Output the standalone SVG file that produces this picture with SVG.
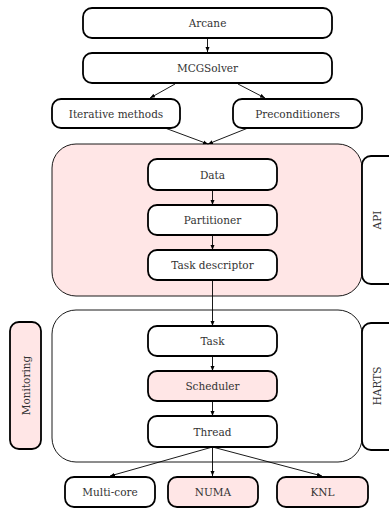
<svg xmlns="http://www.w3.org/2000/svg" width="389" height="509" viewBox="0 0 389 509" font-family="'DejaVu Serif', 'Liberation Serif', serif">
<style>
.node{fill:#fff;stroke:#000;stroke-width:1.8}
.pink{fill:#ffe6e6}
.cont{stroke:#000;stroke-width:0.9}
.t{font-family:'DejaVu Serif','Liberation Serif',serif;font-size:10.5px;fill:#333;text-anchor:middle;dominant-baseline:central}
.conn line{stroke:#000;stroke-width:0.9}
</style>
<defs>
<marker id="ah" viewBox="0 0 10 10" refX="10" refY="5" markerWidth="5" markerHeight="5" orient="auto" markerUnits="userSpaceOnUse">
<path d="M0,1 L10,5 L0,9 Z" fill="#000"/>
</marker>
</defs>
<rect width="389" height="509" fill="#fff"/>
<g id="api-container"><rect class="cont" x="52" y="144" width="310" height="152" rx="24" fill="#ffe6e6"/></g>
<g id="harts-container"><rect class="cont" x="52" y="310" width="310" height="152" rx="24" fill="#fff"/></g>
<g id="api"><rect class="node" x="362" y="156" width="40" height="128" rx="9"/><text class="t" transform="translate(377,220) rotate(-90)">API</text></g>
<g id="harts"><rect class="node" x="362" y="323" width="40" height="127" rx="9"/><text class="t" transform="translate(377,386) rotate(-90)">HARTS</text></g>
<g id="monitoring"><rect class="node pink" x="10" y="322" width="31" height="127" rx="9"/><text class="t" transform="translate(25.5,385.5) rotate(-90)">Monitoring</text></g>
<g class="conn" id="connectors">
<line x1="207.5" y1="38" x2="207.5" y2="52" marker-end="url(#ah)"/>
<line x1="175" y1="84" x2="150" y2="98" marker-end="url(#ah)"/>
<line x1="238" y1="84" x2="265" y2="98" marker-end="url(#ah)"/>
<line x1="165" y1="128" x2="208" y2="144" marker-end="url(#ah)"/>
<line x1="248" y1="128" x2="208" y2="144" marker-end="url(#ah)"/>
<line x1="212.5" y1="190" x2="212.5" y2="205" marker-end="url(#ah)"/>
<line x1="212.5" y1="235" x2="212.5" y2="250" marker-end="url(#ah)"/>
<line x1="212.5" y1="280" x2="212.5" y2="326" marker-end="url(#ah)"/>
<line x1="212.5" y1="356" x2="212.5" y2="371" marker-end="url(#ah)"/>
<line x1="212.5" y1="401" x2="212.5" y2="416" marker-end="url(#ah)"/>
<line x1="212.5" y1="447" x2="110" y2="476" marker-end="url(#ah)"/>
<line x1="212.5" y1="447" x2="212.5" y2="476" marker-end="url(#ah)"/>
<line x1="212.5" y1="447" x2="322" y2="476" marker-end="url(#ah)"/>
</g>
<g id="arcane"><rect class="node" x="83" y="8" width="249" height="30" rx="9"/><text class="t" x="207.5" y="23">Arcane</text></g>
<g id="mcgsolver"><rect class="node" x="83" y="53" width="249" height="30" rx="9"/><text class="t" x="207.5" y="68">MCGSolver</text></g>
<g id="iterative"><rect class="node" x="52" y="99" width="128" height="29" rx="9"/><text class="t" x="116" y="113.5">Iterative methods</text></g>
<g id="preconditioners"><rect class="node" x="233" y="99" width="129" height="29" rx="9"/><text class="t" x="297.5" y="113.5">Preconditioners</text></g>
<g id="data"><rect class="node" x="148" y="159" width="129" height="31" rx="9"/><text class="t" x="212.5" y="174.5">Data</text></g>
<g id="partitioner"><rect class="node" x="148" y="205" width="129" height="30" rx="9"/><text class="t" x="212.5" y="220">Partitioner</text></g>
<g id="taskdesc"><rect class="node" x="148" y="250" width="129" height="30" rx="9"/><text class="t" x="212.5" y="265">Task descriptor</text></g>
<g id="task"><rect class="node" x="148" y="326" width="129" height="30" rx="9"/><text class="t" x="212.5" y="341">Task</text></g>
<g id="scheduler"><rect class="node pink" x="148" y="371" width="129" height="30" rx="9"/><text class="t" x="212.5" y="386">Scheduler</text></g>
<g id="thread"><rect class="node" x="148" y="416" width="129" height="31" rx="9"/><text class="t" x="212.5" y="431.5">Thread</text></g>
<g id="multicore"><rect class="node" x="65" y="477" width="90" height="30" rx="9"/><text class="t" x="110" y="492">Multi-core</text></g>
<g id="numa"><rect class="node pink" x="168" y="477" width="90" height="30" rx="9"/><text class="t" x="213" y="492">NUMA</text></g>
<g id="knl"><rect class="node pink" x="277" y="477" width="91" height="30" rx="9"/><text class="t" x="322.5" y="492">KNL</text></g>
</svg>
